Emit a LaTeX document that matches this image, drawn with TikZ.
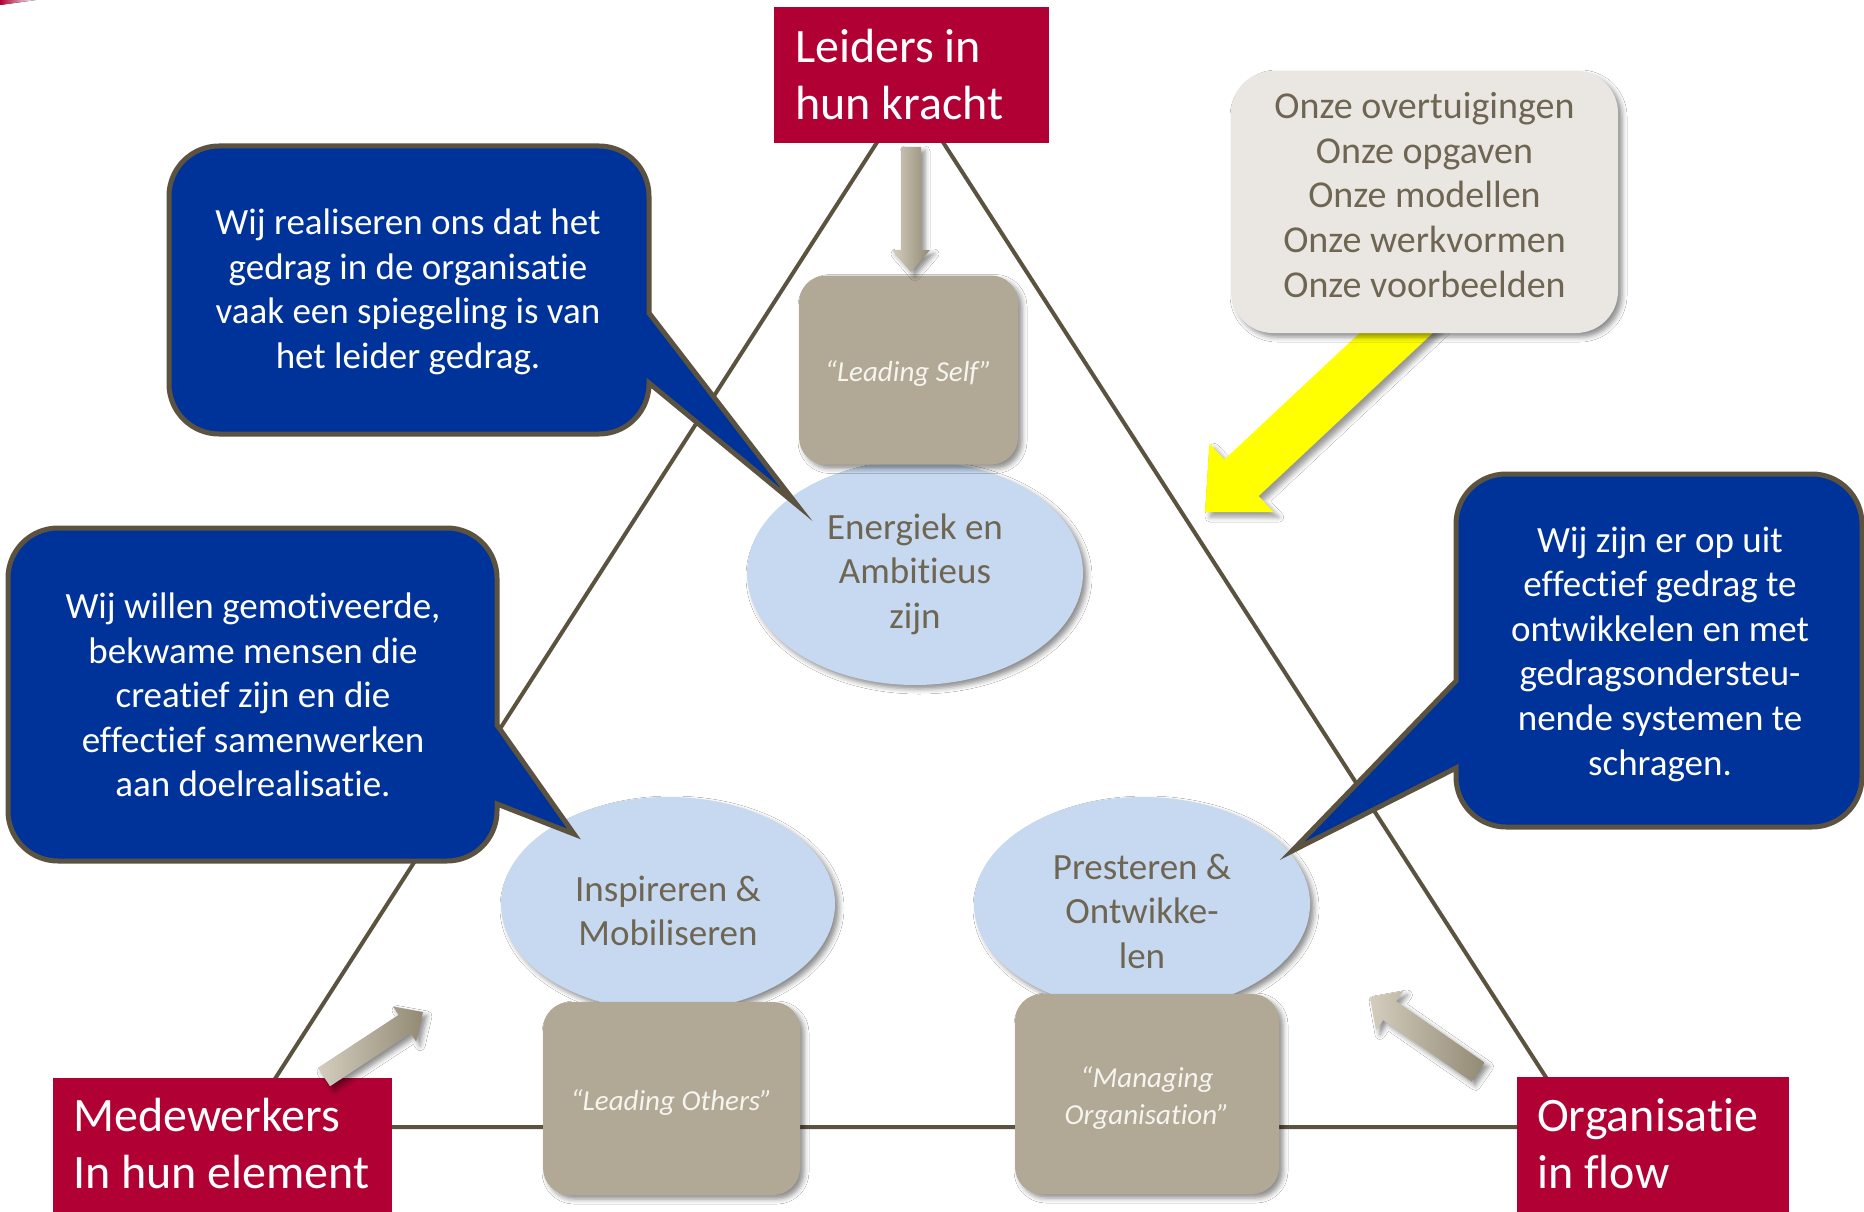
\documentclass[tikz,border=0pt]{standalone}
\usepackage{fontspec}
\setmainfont{Carlito}[Ligatures={NoCommon,NoContextual,NoRequired},Contextuals={NoAlternate}]
\usetikzlibrary{shapes.geometric,shadows.blur,calc}

\definecolor{cRed}{RGB}{176,0,52}
\definecolor{cBlue}{RGB}{0,51,153}
\definecolor{cEdge}{RGB}{92,82,64}
\definecolor{cTan}{RGB}{177,169,150}
\definecolor{cTanText}{RGB}{246,244,238}
\definecolor{cEll}{RGB}{198,217,240}
\definecolor{cOnze}{RGB}{234,231,226}
\definecolor{cOlive}{RGB}{110,102,82}
\definecolor{cArrLight}{RGB}{212,205,190}
\definecolor{cArrDark}{RGB}{146,138,116}
\definecolor{cYellow}{RGB}{255,255,0}

\newcommand\fatarr[6]{%
  \coordinate (fa-hb) at ($(#3)!#5!(#2)$);
  \path[#1] ($(#2)!#4!90:(#3)$) -- ($(fa-hb)!#4!90:(#3)$) -- ($(fa-hb)!#6!90:(#3)$) -- (#3)
    -- ($(fa-hb)!#6!-90:(#3)$) -- ($(fa-hb)!#4!-90:(#3)$) -- ($(#2)!#4!-90:(#3)$) -- cycle;
}

\tikzset{
  softshadow/.style={blur shadow={shadow xshift=4pt, shadow yshift=-4pt, shadow blur radius=5pt, shadow opacity=45}},
  tri/.style={draw=cEdge, line width=4pt, line join=miter},
  redbox/.style={rectangle, fill=cRed, inner sep=0pt},
  redtext/.style={anchor=west, text=white, inner sep=0pt, align=left,
    font=\fontsize{48pt}{57pt}\selectfont},
  tanbox/.style={rectangle, rounded corners=27pt, fill=cTan, inner sep=0pt, softshadow},
  tantext/.style={text=cTanText, align=center, inner sep=0pt,
    font=\fontsize{29pt}{37pt}\selectfont\itshape},
  ell/.style={ellipse, fill=cEll, inner sep=0pt, softshadow},
  elltext/.style={text=cOlive, align=center, inner sep=0pt, font=\fontsize{37pt}{44.5pt}\selectfont},
  onzebox/.style={rectangle, rounded corners=42pt, fill=cOnze, inner sep=0pt, softshadow},
  onzetext/.style={text=cOlive, align=center, inner sep=0pt, font=\fontsize{38pt}{44.8pt}\selectfont},
  callout/.style={fill=cBlue, draw=cEdge, line width=5pt},
  callouttext/.style={text=white, align=center, inner sep=0pt, font=\fontsize{37pt}{44.6pt}\selectfont},
  grayarr/.style={left color=cArrLight, right color=cArrDark, softshadow},
  yellowarr/.style={fill=cYellow, blur shadow={shadow xshift=5pt, shadow yshift=-5pt, shadow blur radius=5pt, shadow opacity=40}},
}

\begin{document}
\begin{tikzpicture}[x=1pt,y=-1pt]
\useasboundingbox (0,0) rectangle (1864,1212);
\fill[white] (0,0) rectangle (1864,1212);

% small red sliver in the corner
\fill[left color=cRed, right color=white] (0,0) -- (36,0) -- (0,5) -- cycle;

% triangle
\coordinate (A) at (910,91);
\coordinate (B) at (244,1127);
\coordinate (C) at (1578,1127);
\draw[tri] (A) -- (B) -- (C) -- cycle;

% ellipses
\node[ell, minimum width=336pt, minimum height=224pt] (e1) at (915,573) {};
\node[ell, minimum width=334pt, minimum height=214pt] (e2) at (668,904) {};
\node[ell, minimum width=336pt, minimum height=214pt] (e3) at (1142,904) {};

\node[elltext] (e1t) at (915,574) {Energiek en\\Ambitieus\\zijn};
\node[elltext] (e2t) at (668,911) {Inspireren \&\\Mobiliseren};
\node[elltext] (e3t) at (1142,911) {Presteren \&\\Ontwikke-\\len};

% tan boxes
\node[tanbox, minimum width=219pt, minimum height=189pt] (b1) at (908.5,370) {};
\node[tanbox, minimum width=257pt, minimum height=193pt] (b2) at (671.5,1098.5) {};
\node[tanbox, minimum width=264pt, minimum height=200pt] (b3) at (1147,1094) {};
\node[tantext] (b1t) at (908.5,374) {“Leading Self”};
\node[tantext] (b2t) at (671.5,1102.5) {“Leading Others”};
\node[tantext] (b3t) at (1147,1098) {“Managing\\Organisation”};

% red boxes
\node[redbox, minimum width=275pt, minimum height=136pt] (r1) at (911.5,75) {};
\node[redbox, minimum width=339pt, minimum height=134pt] (r2) at (222.5,1145) {};
\node[redbox, minimum width=272pt, minimum height=135pt] (r3) at (1653,1144.5) {};
\node[redtext] (r1t) at (795,74.5) {Leiders in\\hun kracht};
\node[redtext] (r2t) at (73,1144) {Medewerkers\\In hun element};
\node[redtext] (r3t) at (1537,1144) {Organisatie\\in flow};

% gray arrows
\coordinate (ga1t) at (911,147);
\coordinate (ga1p) at (911,272);
\fatarr{grayarr}{ga1t}{ga1p}{10pt}{22pt}{19pt}
\coordinate (ga2t) at (324,1077);
\coordinate (ga2p) at (423,1012);
\fatarr{grayarr}{ga2t}{ga2p}{11pt}{22pt}{21pt}
\coordinate (ga3t) at (1478,1072);
\coordinate (ga3p) at (1370,997);
\fatarr{grayarr}{ga3t}{ga3p}{11.5pt}{24pt}{24pt}

% yellow arrow
\coordinate (ya-t) at (1424,307);
\coordinate (ya-p) at (1205,512);
\fatarr{yellowarr}{ya-t}{ya-p}{25pt}{50pt}{47pt}

% Onze box
\node[onzebox, minimum width=387pt, minimum height=262pt] (onze) at (1424.5,202) {};
\node[onzetext] (onzet) at (1424.5,195) {Onze overtuigingen\\Onze opgaven\\Onze modellen\\Onze werkvormen\\Onze voorbeelden};

% callouts
\path[callout] (219,146) -- (599,146) arc[start angle=-90,end angle=0,radius=50]
  -- (649,313) -- (797,505) -- (649,383) -- (649,384) arc[start angle=0,end angle=90,radius=50]
  -- (219,434) arc[start angle=90,end angle=180,radius=50]
  -- (169,196) arc[start angle=180,end angle=270,radius=50] -- cycle;
\node[callouttext] (c1t) at (408,292) {Wij realiseren ons dat het\\gedrag in de organisatie\\vaak een spiegeling is van\\het leider gedrag.};

\path[callout] (58,528) -- (447,528) arc[start angle=-90,end angle=0,radius=50]
  -- (497,725) -- (574,834) -- (497,804) -- (497,811) arc[start angle=0,end angle=90,radius=50]
  -- (58,861) arc[start angle=90,end angle=180,radius=50]
  -- (8,578) arc[start angle=180,end angle=270,radius=50] -- cycle;
\node[callouttext] (c2t) at (253,695) {Wij willen gemotiveerde,\\bekwame mensen die\\creatief zijn en die\\effectief samenwerken\\aan doelrealisatie.};

\path[callout] (1506,474) -- (1812,474) arc[start angle=-90,end angle=0,radius=50]
  -- (1862,777) arc[start angle=0,end angle=90,radius=50]
  -- (1506,827) arc[start angle=90,end angle=180,radius=50]
  -- (1456,768) -- (1292,851) -- (1456,681)
  -- (1456,524) arc[start angle=180,end angle=270,radius=50] -- cycle;
\node[callouttext] (c3t) at (1660,654) {Wij zijn er op uit\\effectief gedrag te\\ontwikkelen en met\\gedragsondersteu-\\nende systemen te\\schragen.};
\end{tikzpicture}
\end{document}
